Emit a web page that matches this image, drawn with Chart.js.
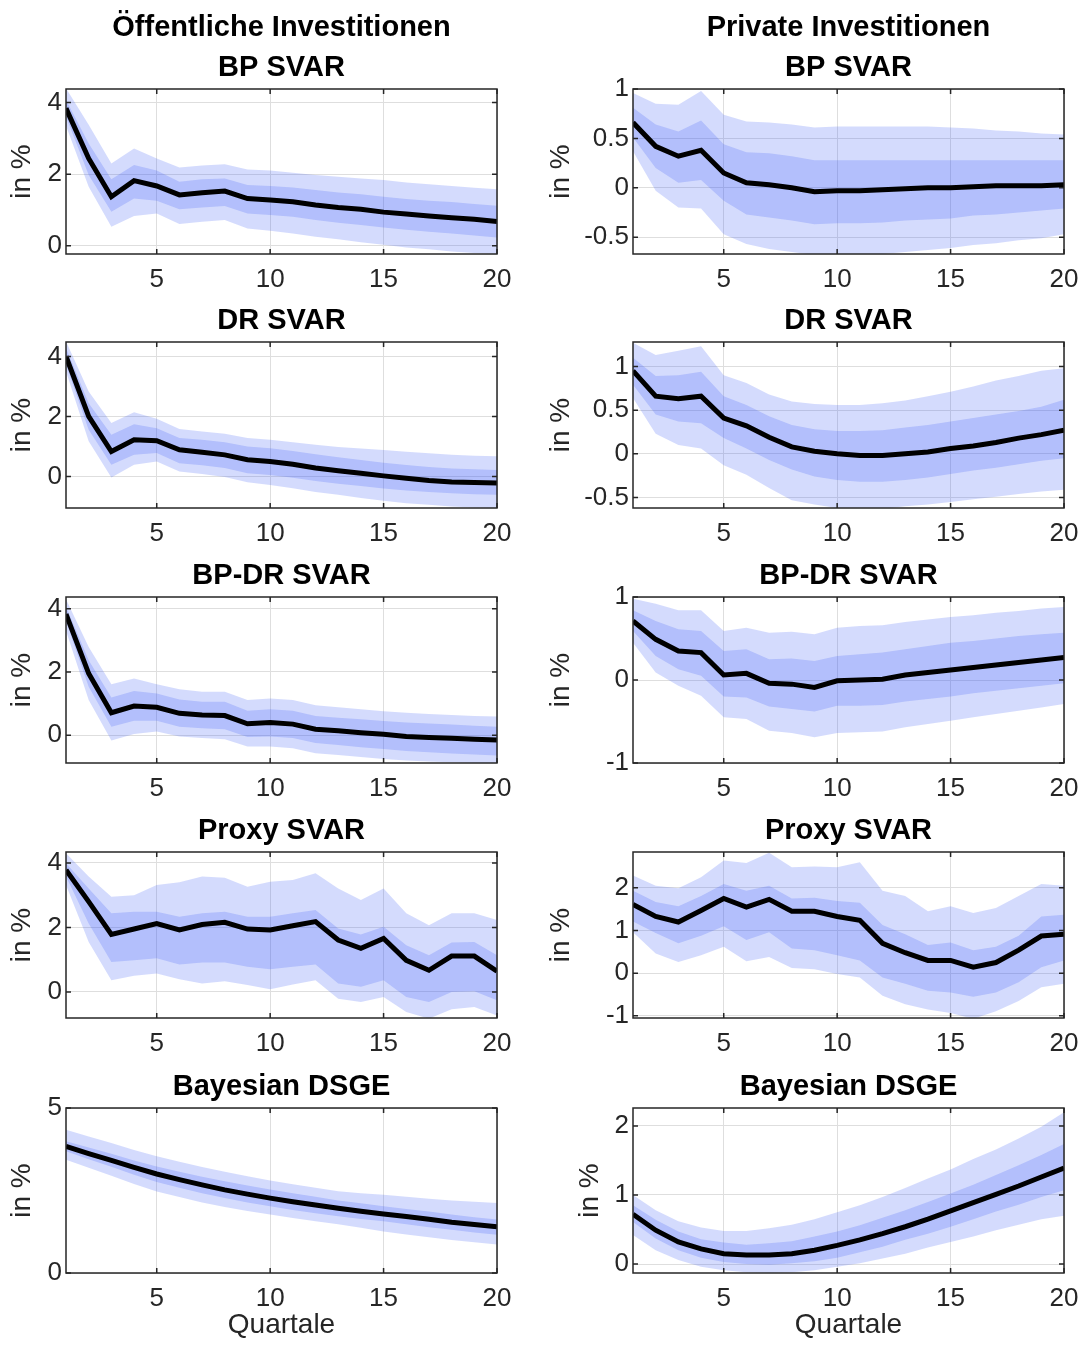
<!DOCTYPE html>
<html>
<head>
<meta charset="utf-8">
<script src="https://cdn.jsdelivr.net/npm/chart.js@4.4.1/dist/chart.umd.min.js"></script>
<style>
  html, body { margin: 0; padding: 0; background: #fff; }
  body { width: 1084px; height: 1347px; position: relative; overflow: hidden; }
  canvas { position: absolute; }
</style>
</head>
<body>
<canvas id="p0"></canvas><canvas id="p1"></canvas>
<canvas id="p2"></canvas><canvas id="p3"></canvas>
<canvas id="p4"></canvas><canvas id="p5"></canvas>
<canvas id="p6"></canvas><canvas id="p7"></canvas>
<canvas id="p8"></canvas><canvas id="p9"></canvas>
<script>
// horizon in quarters and shared tick labels
const quarters = [1, 2, 3, 4, 5, 6, 7, 8, 9, 10, 11, 12, 13, 14, 15, 16, 17, 18, 19, 20];
const xTicks = [5, 10, 15, 20];
const yTicksPub = [0, 2, 4];
const yTicksPubDsge = [0, 5];
const yTicksPrivHalf = [-0.5, 0, 0.5, 1];
const yTicksPrivOne = [-1, 0, 1];
const yTicksPrivProxy = [-1, 0, 1, 2];
const yTicksPrivDsge = [0, 1, 2];

// Öffentliche Investitionen
const pubBpMed   = [3.84, 2.44, 1.37, 1.82, 1.67, 1.42, 1.48, 1.53, 1.32, 1.28, 1.23, 1.14, 1.07, 1.02, 0.94, 0.89, 0.83, 0.78, 0.74, 0.68];
const pubBpInHi  = [4.07, 2.86, 1.86, 2.26, 2.10, 1.79, 1.86, 1.88, 1.70, 1.67, 1.63, 1.56, 1.49, 1.44, 1.37, 1.31, 1.26, 1.22, 1.17, 1.12];
const pubBpInLo  = [3.61, 1.98, 0.95, 1.32, 1.26, 1.02, 1.07, 1.11, 0.90, 0.86, 0.81, 0.72, 0.64, 0.58, 0.51, 0.45, 0.39, 0.34, 0.29, 0.23];
const pubBpOutHi = [4.40, 3.38, 2.30, 2.72, 2.44, 2.19, 2.24, 2.28, 2.13, 2.10, 2.04, 1.98, 1.93, 1.88, 1.84, 1.77, 1.72, 1.67, 1.62, 1.58];
const pubBpOutLo = [3.35, 1.65, 0.53, 0.83, 0.90, 0.61, 0.67, 0.72, 0.48, 0.42, 0.34, 0.25, 0.18, 0.10, 0.03, -0.05, -0.10, -0.16, -0.20, -0.23];

const pubDrMed   = [4.00, 2.00, 0.83, 1.22, 1.19, 0.89, 0.81, 0.72, 0.56, 0.50, 0.41, 0.28, 0.19, 0.11, 0.02, -0.06, -0.13, -0.18, -0.20, -0.22];
const pubDrInHi  = [4.28, 2.44, 1.39, 1.74, 1.61, 1.28, 1.22, 1.14, 1.00, 0.94, 0.85, 0.74, 0.64, 0.55, 0.46, 0.38, 0.32, 0.27, 0.24, 0.22];
const pubDrInLo  = [3.72, 1.56, 0.39, 0.72, 0.78, 0.44, 0.37, 0.28, 0.11, 0.05, -0.04, -0.15, -0.24, -0.32, -0.40, -0.47, -0.52, -0.56, -0.59, -0.61];
const pubDrOutHi = [4.50, 2.83, 1.78, 2.14, 1.92, 1.58, 1.50, 1.42, 1.28, 1.22, 1.14, 1.06, 0.98, 0.93, 0.88, 0.82, 0.77, 0.72, 0.69, 0.67];
const pubDrOutLo = [3.50, 1.17, -0.03, 0.39, 0.50, 0.17, 0.08, -0.02, -0.19, -0.28, -0.39, -0.52, -0.61, -0.72, -0.81, -0.89, -0.94, -1.00, -1.03, -1.05];

const pubBpDrMed   = [3.83, 1.95, 0.71, 0.92, 0.88, 0.69, 0.64, 0.62, 0.36, 0.40, 0.35, 0.19, 0.14, 0.08, 0.03, -0.04, -0.07, -0.10, -0.13, -0.15];
const pubBpDrInHi  = [4.06, 2.37, 1.19, 1.40, 1.32, 1.13, 1.06, 1.06, 0.77, 0.82, 0.77, 0.61, 0.55, 0.50, 0.45, 0.40, 0.37, 0.34, 0.30, 0.27];
const pubBpDrInLo  = [3.60, 1.53, 0.27, 0.46, 0.46, 0.27, 0.22, 0.19, -0.06, -0.04, -0.09, -0.25, -0.31, -0.38, -0.44, -0.50, -0.54, -0.58, -0.61, -0.64];
const pubBpDrOutHi = [4.30, 2.79, 1.61, 1.79, 1.61, 1.45, 1.37, 1.37, 1.11, 1.16, 1.11, 0.95, 0.88, 0.82, 0.76, 0.71, 0.67, 0.64, 0.61, 0.59];
const pubBpDrOutLo = [3.30, 1.11, -0.17, 0.04, 0.12, -0.04, -0.09, -0.13, -0.36, -0.36, -0.41, -0.57, -0.63, -0.69, -0.75, -0.80, -0.83, -0.86, -0.88, -0.90];

const pubProxyMed   = [3.78, 2.80, 1.78, 1.95, 2.12, 1.92, 2.09, 2.16, 1.95, 1.92, 2.05, 2.18, 1.61, 1.35, 1.66, 0.98, 0.67, 1.11, 1.11, 0.64];
const pubProxyInHi  = [3.99, 3.21, 2.44, 2.49, 2.49, 2.33, 2.44, 2.49, 2.33, 2.33, 2.44, 2.54, 1.97, 1.78, 2.02, 1.45, 1.14, 1.53, 1.55, 1.14];
const pubProxyInLo  = [3.58, 2.12, 0.93, 0.98, 1.04, 0.85, 0.91, 0.91, 0.78, 0.70, 0.78, 0.85, 0.26, 0.16, 0.36, -0.16, -0.31, 0.00, 0.02, -0.26];
const pubProxyOutHi = [4.30, 3.58, 2.95, 3.00, 3.32, 3.40, 3.58, 3.54, 3.26, 3.42, 3.47, 3.68, 3.21, 2.85, 3.21, 2.44, 2.07, 2.44, 2.44, 2.23];
const pubProxyOutLo = [3.32, 1.55, 0.36, 0.50, 0.57, 0.39, 0.26, 0.33, 0.21, 0.08, 0.23, 0.36, -0.21, -0.31, -0.16, -0.62, -0.83, -0.54, -0.47, -0.73];

const pubDsgeMed   = [3.84, 3.62, 3.41, 3.20, 3.00, 2.83, 2.67, 2.52, 2.39, 2.27, 2.16, 2.06, 1.96, 1.87, 1.79, 1.71, 1.63, 1.54, 1.47, 1.40];
const pubDsgeInHi  = [3.99, 3.80, 3.61, 3.41, 3.23, 3.07, 2.92, 2.78, 2.65, 2.53, 2.42, 2.31, 2.20, 2.11, 2.02, 1.94, 1.86, 1.77, 1.69, 1.62];
const pubDsgeInLo  = [3.69, 3.45, 3.22, 2.98, 2.76, 2.58, 2.42, 2.27, 2.14, 2.02, 1.91, 1.81, 1.72, 1.64, 1.57, 1.48, 1.39, 1.31, 1.23, 1.16];
const pubDsgeOutHi = [4.34, 4.14, 3.94, 3.73, 3.54, 3.37, 3.21, 3.07, 2.93, 2.80, 2.69, 2.58, 2.48, 2.42, 2.37, 2.31, 2.25, 2.20, 2.16, 2.12];
const pubDsgeOutLo = [3.43, 3.19, 2.95, 2.70, 2.47, 2.30, 2.14, 2.00, 1.88, 1.77, 1.67, 1.57, 1.48, 1.37, 1.26, 1.17, 1.08, 1.00, 0.93, 0.86];

// Private Investitionen
const privBpMed   = [0.66, 0.42, 0.32, 0.38, 0.15, 0.05, 0.03, 0.00, -0.04, -0.03, -0.03, -0.02, -0.01, 0.00, 0.00, 0.01, 0.02, 0.02, 0.02, 0.03];
const privBpInHi  = [0.81, 0.64, 0.57, 0.68, 0.44, 0.36, 0.35, 0.32, 0.28, 0.28, 0.28, 0.28, 0.28, 0.28, 0.28, 0.28, 0.28, 0.28, 0.28, 0.28];
const privBpInLo  = [0.51, 0.20, 0.05, 0.08, -0.13, -0.27, -0.30, -0.33, -0.37, -0.36, -0.36, -0.35, -0.33, -0.32, -0.31, -0.28, -0.27, -0.25, -0.23, -0.21];
const privBpOutHi = [0.96, 0.85, 0.84, 0.98, 0.74, 0.67, 0.66, 0.64, 0.61, 0.62, 0.62, 0.62, 0.62, 0.62, 0.61, 0.60, 0.58, 0.57, 0.55, 0.54];
const privBpOutLo = [0.37, -0.03, -0.20, -0.21, -0.47, -0.57, -0.62, -0.65, -0.68, -0.69, -0.69, -0.67, -0.65, -0.63, -0.61, -0.58, -0.56, -0.53, -0.51, -0.47];

const privDrMed   = [0.95, 0.66, 0.63, 0.66, 0.41, 0.32, 0.19, 0.08, 0.03, 0.00, -0.02, -0.02, 0.00, 0.02, 0.06, 0.09, 0.13, 0.18, 0.22, 0.27];
const privDrInHi  = [1.10, 0.89, 0.90, 0.94, 0.66, 0.56, 0.43, 0.33, 0.28, 0.26, 0.26, 0.27, 0.30, 0.33, 0.37, 0.41, 0.45, 0.49, 0.54, 0.62];
const privDrInLo  = [0.79, 0.45, 0.37, 0.35, 0.18, 0.06, -0.07, -0.18, -0.26, -0.30, -0.32, -0.32, -0.30, -0.27, -0.23, -0.19, -0.16, -0.12, -0.08, -0.05];
const privDrOutHi = [1.27, 1.13, 1.18, 1.23, 0.90, 0.81, 0.68, 0.60, 0.57, 0.56, 0.56, 0.58, 0.61, 0.66, 0.71, 0.77, 0.84, 0.89, 0.95, 0.98];
const privDrOutLo = [0.64, 0.23, 0.10, 0.06, -0.13, -0.24, -0.39, -0.53, -0.58, -0.62, -0.63, -0.63, -0.60, -0.58, -0.55, -0.52, -0.49, -0.46, -0.43, -0.41];

const privBpDrMed   = [0.71, 0.49, 0.35, 0.33, 0.06, 0.08, -0.04, -0.05, -0.09, -0.01, 0.00, 0.01, 0.06, 0.09, 0.12, 0.15, 0.18, 0.21, 0.24, 0.27];
const privBpDrInHi  = [0.84, 0.71, 0.61, 0.59, 0.35, 0.37, 0.25, 0.26, 0.23, 0.29, 0.31, 0.33, 0.37, 0.41, 0.45, 0.47, 0.50, 0.53, 0.55, 0.57];
const privBpDrInLo  = [0.59, 0.29, 0.13, 0.05, -0.20, -0.21, -0.32, -0.35, -0.38, -0.31, -0.31, -0.30, -0.26, -0.23, -0.20, -0.16, -0.13, -0.10, -0.07, -0.04];
const privBpDrOutHi = [0.98, 0.92, 0.84, 0.84, 0.59, 0.63, 0.57, 0.58, 0.55, 0.63, 0.65, 0.66, 0.70, 0.73, 0.76, 0.78, 0.81, 0.83, 0.86, 0.88];
const privBpDrOutLo = [0.45, 0.09, -0.07, -0.19, -0.45, -0.47, -0.61, -0.64, -0.69, -0.64, -0.63, -0.62, -0.57, -0.53, -0.49, -0.45, -0.41, -0.37, -0.33, -0.29];

const privProxyMed   = [1.61, 1.33, 1.20, 1.47, 1.75, 1.55, 1.73, 1.45, 1.45, 1.33, 1.24, 0.70, 0.48, 0.30, 0.30, 0.14, 0.25, 0.54, 0.87, 0.91];
const privProxyInHi  = [1.93, 1.67, 1.57, 1.81, 2.09, 1.93, 2.05, 1.75, 1.77, 1.69, 1.65, 1.13, 0.91, 0.66, 0.72, 0.54, 0.62, 0.88, 1.33, 1.37];
const privProxyInLo  = [1.21, 0.94, 0.70, 0.88, 1.10, 0.78, 0.96, 0.58, 0.54, 0.42, 0.30, -0.10, -0.25, -0.41, -0.45, -0.55, -0.45, -0.21, 0.14, 0.30];
const privProxyOutHi = [2.29, 2.05, 1.99, 2.25, 2.64, 2.58, 2.82, 2.48, 2.50, 2.48, 2.60, 1.93, 1.81, 1.45, 1.57, 1.41, 1.53, 1.81, 2.09, 2.05];
const privProxyOutLo = [0.96, 0.46, 0.26, 0.42, 0.62, 0.28, 0.38, 0.12, 0.09, -0.02, -0.10, -0.53, -0.73, -0.85, -0.93, -1.07, -0.89, -0.65, -0.33, -0.25];

const privDsgeMed   = [0.72, 0.49, 0.32, 0.22, 0.15, 0.13, 0.13, 0.15, 0.20, 0.27, 0.35, 0.44, 0.54, 0.65, 0.77, 0.89, 1.01, 1.13, 1.26, 1.39];
const privDsgeInHi  = [0.85, 0.64, 0.47, 0.36, 0.31, 0.28, 0.30, 0.33, 0.40, 0.47, 0.56, 0.67, 0.78, 0.90, 1.02, 1.15, 1.29, 1.43, 1.58, 1.74];
const privDsgeInLo  = [0.61, 0.37, 0.20, 0.09, 0.03, 0.00, -0.01, 0.01, 0.04, 0.09, 0.17, 0.25, 0.35, 0.44, 0.54, 0.65, 0.76, 0.86, 0.97, 1.07];
const privDsgeOutHi = [1.00, 0.78, 0.62, 0.53, 0.48, 0.48, 0.52, 0.57, 0.65, 0.75, 0.85, 0.97, 1.10, 1.24, 1.37, 1.52, 1.66, 1.82, 1.99, 2.20];
const privDsgeOutLo = [0.42, 0.20, 0.06, -0.04, -0.09, -0.12, -0.13, -0.12, -0.09, -0.04, 0.01, 0.08, 0.15, 0.24, 0.32, 0.40, 0.49, 0.57, 0.65, 0.70];

// layout of the 5x2 grid (pixels)
const colLeft = [0, 540];
const colWidth = [540, 544];
const yAxisWidth = [66, 93];
const padRight = [43, 20];
const rowTop = [8, 301, 556, 811, 1067];
const rowHeight = [290, 251, 251, 251, 280];
const xAxisHeight = [44, 44, 44, 44, 74];

const panels = [
  { row: 0, col: 0, title: ['Öffentliche Investitionen', 'BP SVAR'], yRange: [-0.23, 4.38], yTicks: yTicksPub, labelPad: 5,
    s: [pubBpMed, pubBpInHi, pubBpInLo, pubBpOutHi, pubBpOutLo] },
  { row: 0, col: 1, title: ['Private Investitionen', 'BP SVAR'], yRange: [-0.67, 1.0], yTicks: yTicksPrivHalf, labelPad: 4,
    s: [privBpMed, privBpInHi, privBpInLo, privBpOutHi, privBpOutLo] },
  { row: 1, col: 0, title: 'DR SVAR', yRange: [-1.05, 4.48], yTicks: yTicksPub, labelPad: 5,
    s: [pubDrMed, pubDrInHi, pubDrInLo, pubDrOutHi, pubDrOutLo] },
  { row: 1, col: 1, title: 'DR SVAR', yRange: [-0.62, 1.28], yTicks: yTicksPrivHalf, labelPad: 4,
    s: [privDrMed, privDrInHi, privDrInLo, privDrOutHi, privDrOutLo] },
  { row: 2, col: 0, title: 'BP-DR SVAR', yRange: [-0.88, 4.37], yTicks: yTicksPub, labelPad: 5,
    s: [pubBpDrMed, pubBpDrInHi, pubBpDrInLo, pubBpDrOutHi, pubBpDrOutLo] },
  { row: 2, col: 1, title: 'BP-DR SVAR', yRange: [-1, 1], yTicks: yTicksPrivOne, labelPad: 4,
    s: [privBpDrMed, privBpDrInHi, privBpDrInLo, privBpDrOutHi, privBpDrOutLo] },
  { row: 3, col: 0, title: 'Proxy SVAR', yRange: [-0.81, 4.34], yTicks: yTicksPub, labelPad: 5,
    s: [pubProxyMed, pubProxyInHi, pubProxyInLo, pubProxyOutHi, pubProxyOutLo] },
  { row: 3, col: 1, title: 'Proxy SVAR', yRange: [-1.05, 2.84], yTicks: yTicksPrivProxy, labelPad: 4,
    s: [privProxyMed, privProxyInHi, privProxyInLo, privProxyOutHi, privProxyOutLo] },
  { row: 4, col: 0, title: 'Bayesian DSGE', yRange: [0, 5], yTicks: yTicksPubDsge, labelPad: 5,
    s: [pubDsgeMed, pubDsgeInHi, pubDsgeInLo, pubDsgeOutHi, pubDsgeOutLo] },
  { row: 4, col: 1, title: 'Bayesian DSGE', yRange: [-0.13, 2.26], yTicks: yTicksPrivDsge, labelPad: 33,
    s: [privDsgeMed, privDsgeInHi, privDsgeInLo, privDsgeOutHi, privDsgeOutLo] },
];

const BAND = 'rgba(60, 90, 245, 0.22)';
const AXIS = '#262626';
const GRID = '#dedede';

Chart.defaults.font.family = '"Liberation Sans", Arial, Helvetica, sans-serif';
Chart.defaults.color = AXIS;

// MATLAB-style box with inward tick marks
const axesBox = {
  id: 'axesBox',
  afterDatasetsDraw(chart) {
    const { ctx, chartArea: a, scales: { x, y } } = chart;
    ctx.save();
    ctx.strokeStyle = AXIS;
    ctx.lineWidth = 1.5;
    ctx.strokeRect(a.left, a.top, a.right - a.left, a.bottom - a.top);
    ctx.beginPath();
    x.ticks.forEach((t) => {
      const px = x.getPixelForValue(t.value);
      ctx.moveTo(px, a.bottom); ctx.lineTo(px, a.bottom - 5);
      ctx.moveTo(px, a.top); ctx.lineTo(px, a.top + 5);
    });
    y.ticks.forEach((t) => {
      const py = y.getPixelForValue(t.value);
      ctx.moveTo(a.left, py); ctx.lineTo(a.left + 5, py);
      ctx.moveTo(a.right, py); ctx.lineTo(a.right - 5, py);
    });
    ctx.stroke();
    ctx.restore();
  },
};

const toPoints = (arr) => arr.map((v, i) => ({ x: quarters[i], y: v }));
const band = (arr, fill) => ({
  data: toPoints(arr), borderWidth: 0, pointRadius: 0, fill: fill ? '+1' : false,
  backgroundColor: BAND, clip: 0,
});

panels.forEach((p, i) => {
  const canvas = document.getElementById(`p${i}`);
  canvas.width = colWidth[p.col];
  canvas.height = rowHeight[p.row];
  canvas.style.left = `${colLeft[p.col]}px`;
  canvas.style.top = `${rowTop[p.row]}px`;
  const isBottom = p.row === 4;
  const [med, inHi, inLo, outHi, outLo] = p.s;

  new Chart(canvas, {
    type: 'line',
    data: {
      datasets: [
        { data: toPoints(med), borderColor: '#000', borderWidth: 5, pointRadius: 0, fill: false, tension: 0, clip: 0 },
        band(inHi, true),
        band(inLo, false),
        band(outHi, true),
        band(outLo, false),
      ],
    },
    options: {
      responsive: false,
      animation: false,
      events: [],
      layout: { padding: { left: 0, right: padRight[p.col], top: 0, bottom: 0 }, autoPadding: false },
      plugins: {
        legend: { display: false },
        tooltip: { enabled: false },
        title: {
          display: true,
          text: p.title,
          fullSize: false,
          color: '#000',
          font: { size: 29, weight: 'bold', lineHeight: '40px' },
          padding: { top: 0, bottom: 1 },
        },
      },
      scales: {
        x: {
          type: 'linear',
          min: quarters[0],
          max: quarters[quarters.length - 1],
          afterBuildTicks: (axis) => { axis.ticks = xTicks.map((v) => ({ value: v })); },
          afterFit: (axis) => {
            axis.height = xAxisHeight[p.row];
            axis.paddingLeft = 0;
            axis.paddingRight = 0;
          },
          grid: { color: GRID, lineWidth: 1, drawTicks: false },
          border: { display: false },
          ticks: { autoSkip: false, maxRotation: 0, padding: 10, font: { size: 26 }, color: AXIS, callback: (v) => String(v) },
          title: {
            display: isBottom, text: 'Quartale', color: AXIS,
            font: { size: 28 }, padding: { top: 0, bottom: 5 },
          },
        },
        y: {
          type: 'linear',
          min: p.yRange[0],
          max: p.yRange[1],
          afterBuildTicks: (axis) => { axis.ticks = p.yTicks.map((v) => ({ value: v })); },
          afterFit: (axis) => {
            axis.width = yAxisWidth[p.col];
            axis.paddingTop = 0;
            axis.paddingBottom = 0;
          },
          grid: { color: GRID, lineWidth: 1, drawTicks: false },
          border: { display: false },
          ticks: { padding: 4, font: { size: 26 }, color: AXIS, callback: (v) => String(v) },
          title: {
            display: true, text: 'in %', color: AXIS,
            font: { size: 28 }, padding: { top: p.labelPad, bottom: 0 },
          },
        },
      },
    },
    plugins: [axesBox],
  });
});
</script>
</body>
</html>
